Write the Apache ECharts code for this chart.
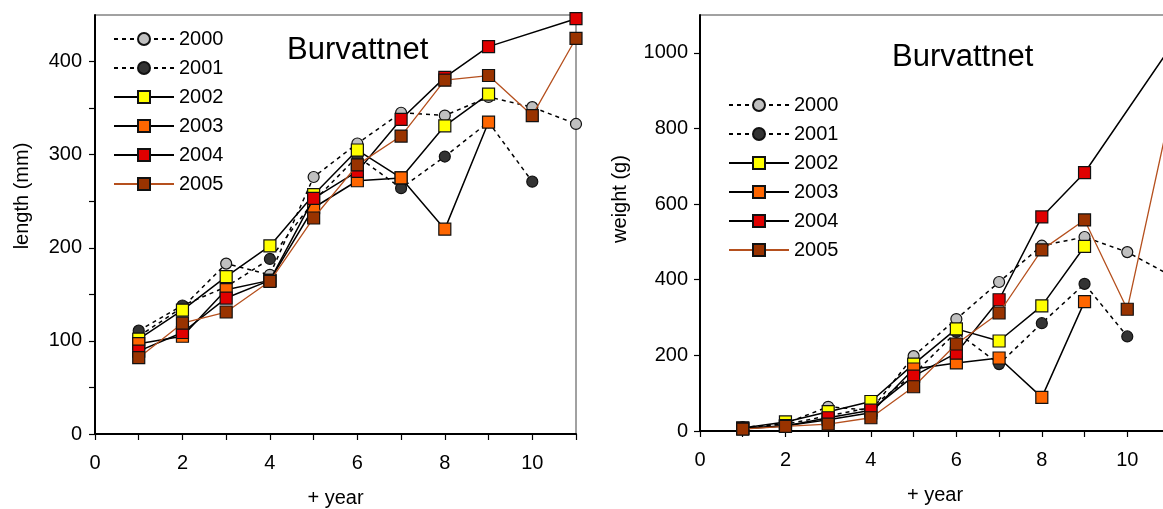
<!DOCTYPE html>
<html>
<head>
<meta charset="utf-8">
<script src="https://cdn.jsdelivr.net/npm/echarts@6/dist/echarts.min.js"></script>
<style>
html,body{margin:0;padding:0;background:#fff;}
#c{width:1163px;height:509px;}
</style>
</head>
<body>
<div id="c"></div>
<script>
var years = ['2000','2001','2002','2003','2004','2005'];
var ages = [1,2,3,4,5,6,7,8,9,10,11];
var xTicks = [0,1,2,3,4,5,6,7,8,9,10,11];
var xLabels = [0,2,4,6,8,10];
var lengthTicks = [0,50,100,150,200,250,300,350,400];
var lengthLabels = [0,100,200,300,400];
var weightTicks = [0,200,400,600,800,1000];

var len2000 = [105,136,183,171,276,312,345,342,362,351,333];
var len2001 = [111,138,158,188,250,298,264,298,335,271,null];
var len2002 = [102,133,169,202,257,305,275,331,365,null,null];
var len2003 = [97,105,155,165,243,272,275,220,335,null,null];
var len2004 = [89,109,146,165,253,282,338,383,416,null,446];
var len2005 = [82,119,131,164,232,289,320,380,385,342,425];

var wt2000 = [8,20,64,55,198,296,394,490,513,473,412];
var wt2001 = [10,18,40,62,150,262,177,285,389,250,null];
var wt2002 = [8,24,51,78,177,270,238,331,488,null,null];
var wt2003 = [7,14,30,48,164,180,193,89,342,null,null];
var wt2004 = [6,13,35,55,145,206,347,566,683,null,1013];
var wt2005 = [5,12,18,35,117,230,312,479,558,322,841];

var lengthSeries = [len2000,len2001,len2002,len2003,len2004,len2005];
var weightSeries = [wt2000,wt2001,wt2002,wt2003,wt2004,wt2005];

var fills = ['#c0c0c0','#333333','#ffff00','#ff6600','#e00000','#993300'];
var lineColors = ['#000','#000','#000','#000','#000','#b5501e'];
var lineTypes = [[4,4],[4,4],'solid','solid','solid','solid'];
var symbols = ['circle','circle','rect','rect','rect','rect'];
var symSizes = [11,11,12,12,12,12];

var FONT = 'Liberation Sans, Arial, sans-serif';

function plain(v){ return String(v); }

function pairs(arr){
  var out = [];
  for (var i=0;i<ages.length;i++){ if(arr[i]!=null) out.push([ages[i], arr[i]]); }
  return out;
}

function makeXAxis(gi){
  return {
    type:'value', gridIndex:gi, min:0, max:11, interval:1,
    axisLine:{show:true, onZero:false, lineStyle:{color:'#000', width:2}},
    axisTick:{show:true, length:6, inside:false, customValues:xTicks, lineStyle:{color:'#000', width:1.2}},
    splitLine:{show:false},
    axisLabel:{color:'#000', fontSize:20, fontFamily:FONT, margin:19, customValues:xLabels, formatter:plain},
    name:'+ year', nameLocation:'middle', nameGap:54,
    nameTextStyle:{color:'#000', fontSize:20, fontFamily:FONT}
  };
}

var series = [];
for (var s=0;s<years.length;s++){
  [lengthSeries, weightSeries].forEach(function(src, gi){
    series.push({
      name: years[s], type:'line', xAxisIndex:gi, yAxisIndex:gi,
      data: pairs(src[s]),
      symbol: symbols[s], symbolSize: symSizes[s],
      showAllSymbol:true,
      lineStyle:{color:lineColors[s], width:(s===5?1.3:1.5), type:lineTypes[s]},
      itemStyle:{color:fills[s], borderColor:'#111', borderWidth:1.2},
      emphasis:{disabled:true},
      z: 2+s
    });
  });
}

function legend(left, top){
  return {
    orient:'vertical', left:left, top:top, padding:0,
    itemWidth:60, itemHeight:15, itemGap:9, selectedMode:false,
    data: years,
    textStyle:{color:'#000', fontSize:20, fontFamily:FONT}
  };
}

var option = {
  animation:false,
  backgroundColor:'#fff',
  title:[
    {text:'Burvattnet', left:287, top:35, padding:0, textStyle:{fontSize:31, fontWeight:'normal', color:'#000', fontFamily:FONT}},
    {text:'Burvattnet', left:892, top:42, padding:0, textStyle:{fontSize:31, fontWeight:'normal', color:'#000', fontFamily:FONT}}
  ],
  legend:[legend(113,29), legend(728,95)],
  grid:[
    {left:95, top:15, right:587, bottom:75, show:true, borderColor:'#444', borderWidth:1, backgroundColor:'transparent', outerBoundsMode:'none', containLabel:false},
    {left:700, top:15, right:-7, bottom:78, show:true, borderColor:'#444', borderWidth:1, backgroundColor:'transparent', outerBoundsMode:'none', containLabel:false}
  ],
  xAxis:[makeXAxis(0), makeXAxis(1)],
  yAxis:[
    {type:'value', gridIndex:0, min:0, max:450, interval:50,
     axisLine:{show:true, lineStyle:{color:'#000', width:2}},
     axisTick:{show:true, length:6, customValues:lengthTicks, lineStyle:{color:'#000', width:1.2}},
     splitLine:{show:false},
     axisLabel:{color:'#000', fontSize:20, fontFamily:FONT, margin:13, customValues:lengthLabels, formatter:plain}},
    {type:'value', gridIndex:1, min:0, max:1100, interval:100,
     axisLine:{show:true, lineStyle:{color:'#000', width:2}},
     axisTick:{show:true, length:6, customValues:weightTicks, lineStyle:{color:'#000', width:1.2}},
     splitLine:{show:false},
     axisLabel:{color:'#000', fontSize:20, fontFamily:FONT, margin:12, customValues:weightTicks, formatter:plain}}
  ],
  graphic:[
    {type:'text', x:22, y:196, rotation:Math.PI/2, style:{text:'length (mm)', fill:'#000', font:'20px '+FONT, align:'center', verticalAlign:'middle'}},
    {type:'text', x:620, y:199, rotation:Math.PI/2, style:{text:'weight (g)', fill:'#000', font:'20px '+FONT, align:'center', verticalAlign:'middle'}}
  ],
  series: series
};

var chart = echarts.init(document.getElementById('c'), null, {renderer:'canvas'});
chart.setOption(option);
</script>
</body>
</html>
